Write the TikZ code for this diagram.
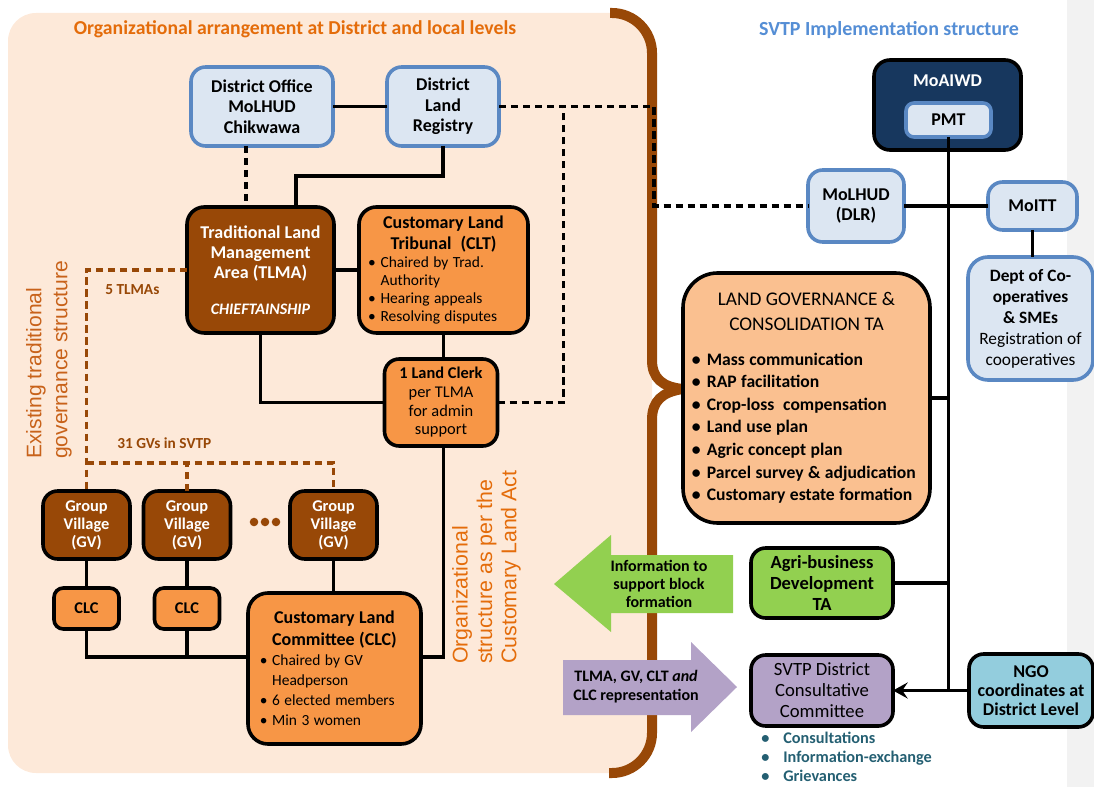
\documentclass[tikz,border=0pt]{standalone}
\usepackage{fontspec}
\setmainfont{Carlito}
\newfontfamily\sidefont{Liberation Sans}
\usetikzlibrary{arrows.meta}
\definecolor{panel}{HTML}{FDE9D9}
\definecolor{bark}{HTML}{984807}
\definecolor{clay}{HTML}{F79646}
\definecolor{apricot}{HTML}{FAC090}
\definecolor{sky}{HTML}{DCE6F2}
\definecolor{skyline}{HTML}{5A88C3}
\definecolor{navy}{HTML}{17375E}
\definecolor{leaf}{HTML}{92D050}
\definecolor{lilac}{HTML}{B3A2C7}
\definecolor{aqua}{HTML}{93CDDD}
\definecolor{rust}{HTML}{E46C0A}
\definecolor{rustdark}{HTML}{C8621A}
\definecolor{steel}{HTML}{558ED5}
\definecolor{deepteal}{HTML}{245F72}
\definecolor{band}{HTML}{F2F2F2}
\newcommand{\fbig}{\fontsize{13.5}{15.5}\selectfont}
\newcommand{\fsmall}{\fontsize{11.6}{13.5}\selectfont}
\newcommand{\bitem}[1][0.8em]{\par\hangindent=#1\hangafter=1\noindent\makebox[#1][l]{\textbullet}}

\begin{document}
\begin{tikzpicture}[x=0.75pt,y=-0.75pt,
	any/.style={draw,line width=2.7pt,rounded corners=11pt,align=center,%
		inner sep=0pt,outer sep=0pt},
	bluebox/.style={any,draw=skyline,fill=sky,font=\fbig\bfseries},
	brownbox/.style={any,fill=bark,text=white},
	orangebox/.style={any,fill=clay},
	mycolor/.style={any,fill=#1},
	link/.style={line width=2.6pt},
	dashlink/.style={link,dash pattern=on 5.5pt off 3.5pt},
	browndash/.style={dashlink,draw=bark},
	note/.style={text=bark,font=\fontsize{11.5}{13}\selectfont\bfseries,anchor=west,inner sep=0pt}
	]
	\useasboundingbox (0,0) rectangle (1094,787);
	\fill[band] (1067,0) rectangle (1094,787);

	% district panel and brace
	\fill[panel] (612,13) .. controls (634,13) and (652,31) .. (652,53) -- (652,733)
		.. controls (652,755) and (634,773) .. (612,773) -- (36,773)
		.. controls (20.5,773) and (8,760.5) .. (8,745) -- (8,41)
		.. controls (8,25.5) and (20.5,13) .. (36,13) -- cycle;
	\draw[bark,line width=7.5pt] (610,13) -- (612,13) .. controls (634,13) and (652,31) .. (652,53)
		-- (652,360) .. controls (652,378) and (662,387) .. (683,389)
		.. controls (662,392) and (652,401) .. (652,420)
		-- (652,733) .. controls (652,755) and (634,773) .. (612,773) -- (609,773);

	\node[text=rust,font=\fontsize{14.8}{16}\selectfont\bfseries] (lefttitle) at (295,29)
		{Organizational arrangement at District and local levels};
	\node[text=steel,font=\fontsize{15}{16}\selectfont\bfseries] (righttitle) at (889,30)
		{SVTP Implementation structure};

	% district and local level
	\node[bluebox,minimum width=106.5pt,minimum height=59.25pt] (DO) at (262,106.5)
		{District Office\\MoLHUD\\Chikwawa};
	\node[bluebox,minimum width=84pt,minimum height=59.25pt] (DLR) at (443,106.5)
		{District\\Land\\Registry};
	\node[brownbox,rounded corners=13pt,minimum width=110.25pt,minimum height=94.5pt,%
		font=\fontsize{13.5}{15}\selectfont\bfseries] (TLMA) at (260.5,270)
		{Traditional Land\\Management\\Area (TLMA)\\[12pt]{\fontsize{12}{14}\selectfont\itshape CHIEFTAINSHIP}};
	\node[orangebox,rounded corners=13pt,minimum width=126.75pt,minimum height=94.5pt,%
		text width=113pt] (CLT) at (443.5,270)
		{{\centering\fbig\bfseries Customary Land\\Tribunal\ \ (CLT)\par}%
		\raggedright\fsmall\bitem Chaired by Trad.\newline Authority\bitem Hearing appeals\bitem Resolving disputes\par};
	\node[orangebox,minimum width=84.75pt,minimum height=65.25pt,%
		font=\fontsize{12.3}{14}\selectfont] (Clerk) at (441,402.5)
		{\textbf{1 Land Clerk}\\per TLMA\\for admin\\support};
	\foreach \x/\n in {86.5/1,187/2,333.5/3}
		\node[brownbox,minimum width=65.25pt,minimum height=51pt,%
			font=\fontsize{12.3}{13.5}\selectfont\bfseries] (GV\n) at (\x,525) {Group\\Village\\(GV)};
	\foreach \x/\n in {86.5/1,187/2}
		\node[orangebox,rounded corners=7pt,minimum width=48.75pt,minimum height=30.75pt,%
			font=\fontsize{12.3}{13.5}\selectfont\bfseries] (CLC\n) at (\x,608.5) {CLC};
	\node[orangebox,rounded corners=15pt,minimum width=129.75pt,minimum height=113.25pt,%
		text width=112pt] (CLCbig) at (334.5,668.5)
		{{\centering\fontsize{13.5}{16.5}\selectfont\bfseries Customary Land\\Committee (CLC)\par}%
		\raggedright\fontsize{11.6}{15}\selectfont\bitem Chaired by GV\newline Headperson\bitem 6 elected members\bitem Min 3 women\par};
	\foreach \x in {254,265,276}
		\fill[bark] (\x,522) circle (3.2pt);

	\node[note] (ntlma) at (105,290) {5 TLMAs};
	\node[note] (ngv) at (117,443) {31 GVs in SVTP};
	\node[rotate=90,anchor=west,align=left,text=rustdark,inner sep=0pt,%
		font=\sidefont\fontsize{15.8}{19.5}\selectfont] (existing) at (49,459)
		{Existing traditional\\governance structure};
	\node[rotate=90,anchor=west,align=left,text=rust,inner sep=0pt,%
		font=\sidefont\fontsize{16}{18.3}\selectfont] (statutory) at (486.5,664)
		{Organizational\\structure as per the\\Customary Land Act};

	% implementation structure
	\node[any,fill=navy,rounded corners=12pt,minimum width=110.25pt,minimum height=67.5pt] (MoAIWD) at (947.5,105) {};
	\node[text=white,font=\fbig\bfseries] (MoAIWDlbl) at (947.5,81) {MoAIWD};
	\node[bluebox,rounded corners=6pt,minimum width=63.75pt,minimum height=25.5pt] (PMT) at (948.5,120) {PMT};
	\node[bluebox,minimum width=72pt,minimum height=54pt] (MoLHUD) at (856,206) {MoLHUD\\(DLR)};
	\node[bluebox,minimum width=66.75pt,minimum height=36pt] (MoITT) at (1032.5,206) {MoITT};
	\node[bluebox,rounded corners=15pt,minimum width=93.75pt,minimum height=92.25pt,%
		font=\fontsize{13}{15.75}\selectfont] (Dept) at (1030.5,318.5)
		{\textbf{Dept of Co-}\\\textbf{operatives}\\\textbf{\& SMEs}\\Registration of\\cooperatives};
	\node[mycolor=apricot,rounded corners=26pt,minimum width=185.25pt,minimum height=187.5pt,%
		text width=172pt] (LG) at (806.5,398)
		{{\centering\fontsize{14.5}{18.75}\selectfont LAND GOVERNANCE \&\\CONSOLIDATION TA\par}\vspace{9pt}%
		\raggedright\fontsize{13.2}{16.9}\selectfont\bfseries
		\bitem[0.6em] Mass communication\bitem[0.6em] RAP facilitation\bitem[0.6em] Crop-loss\ \ compensation%
		\bitem[0.6em] Land use plan\bitem[0.6em] Agric concept plan\bitem[0.6em] Parcel survey \& adjudication%
		\bitem[0.6em] Customary estate formation\par};
	\node[mycolor=leaf,minimum width=106.5pt,minimum height=52.5pt,%
		font=\fontsize{13.9}{15.75}\selectfont\bfseries] (Agri) at (822,583)
		{Agri-business\\Development\\TA};
	\node[mycolor=lilac,minimum width=106.5pt,minimum height=53.25pt,%
		font=\fontsize{14}{15.75}\selectfont] (SVTP) at (822,690.5)
		{SVTP District\\Consultative\\Committee};
	\node[mycolor=aqua,minimum width=93pt,minimum height=54.75pt,%
		font=\fontsize{13.5}{14.5}\selectfont\bfseries] (NGO) at (1031,690.5)
		{NGO\\coordinates at\\District Level};
	\node[anchor=west,align=left,inner sep=0pt,text=deepteal,%
		font=\fontsize{12.2}{14.25}\selectfont\bfseries] (topics) at (761,757)
		{\makebox[16.5pt][l]{\textbullet}Consultations\\\makebox[16.5pt][l]{\textbullet}Information-exchange\\%
		\makebox[16.5pt][l]{\textbullet}Grievances};

	% connectors, left
	\draw[link] (DO) -- (DLR);
	\draw[dashlink] ([xshift=-12pt]DO.south) -- ([xshift=-12pt]DO.south |- TLMA.north);
	\draw[link] (DLR.south) -- ++(0,30) -| ([xshift=26.6pt]TLMA.north);
	\draw[link] (TLMA) -- (CLT);
	\draw[link] (CLT.south) -- (CLT.south |- Clerk.north);
	\draw[link] (TLMA.south) |- (Clerk.west);
	\coordinate (clcbus) at ([yshift=8.6pt]CLCbig.west);
	\draw[link] ([xshift=2pt]Clerk.south) |- ([yshift=8.6pt]CLCbig.east);
	\draw[link] (GV1) -- (CLC1);
	\draw[link] (GV2) -- (CLC2);
	\draw[link] (GV3) -- (GV3 |- CLCbig.north);
	\draw[link] (CLC1.south) |- (clcbus);
	\draw[link] (CLC2.south) -- (CLC2.south |- clcbus);
	\draw[browndash] (TLMA.west) -| (GV1.north);
	\coordinate (gvbus) at (86.5,463);
	\draw[browndash] (gvbus) -| (GV3.north);
	\draw[browndash] (GV2.north) -- (GV2.north |- gvbus);
	\draw[dashlink] (DLR.east) -- ++(155,0) |- (MoLHUD.west);
	\draw[dashlink] (Clerk.east) -- ++(66,0) coordinate (j1) -- (j1 |- DLR.east);

	% connectors, right
	\draw[link] (PMT.south) -- (PMT.south |- NGO.west);
	\draw[link] (MoLHUD) -- (MoITT);
	\draw[link] (MoITT.south) -- (MoITT.south |- Dept.north);
	\draw[link] (LG.east) -- (LG.east -| PMT.south);
	\draw[link] (Agri.east) -- (Agri.east -| PMT.south);
	\draw[link,-{Stealth[length=11pt,width=12pt,inset=4pt]}] (NGO.west) -- (SVTP.east);

	% block arrows
	\fill[leaf] (554,584) -- (611,535) -- (611,555) -- (733,555) -- (733,613) -- (611,613) -- (611,632) -- cycle;
	\node[align=center,font=\fontsize{12}{13.5}\selectfont\bfseries] (info) at (659,584)
		{Information to\\support block\\formation};
	\fill[lilac] (563,660) -- (691,660) -- (691,642) -- (737,687) -- (691,732) -- (691,715) -- (563,715) -- cycle;
	\node[align=center,font=\fontsize{12}{14.25}\selectfont\bfseries] (repr) at (636,687)
		{TLMA, GV, CLT \textit{and}\\CLC representation};
\end{tikzpicture}
\end{document}
